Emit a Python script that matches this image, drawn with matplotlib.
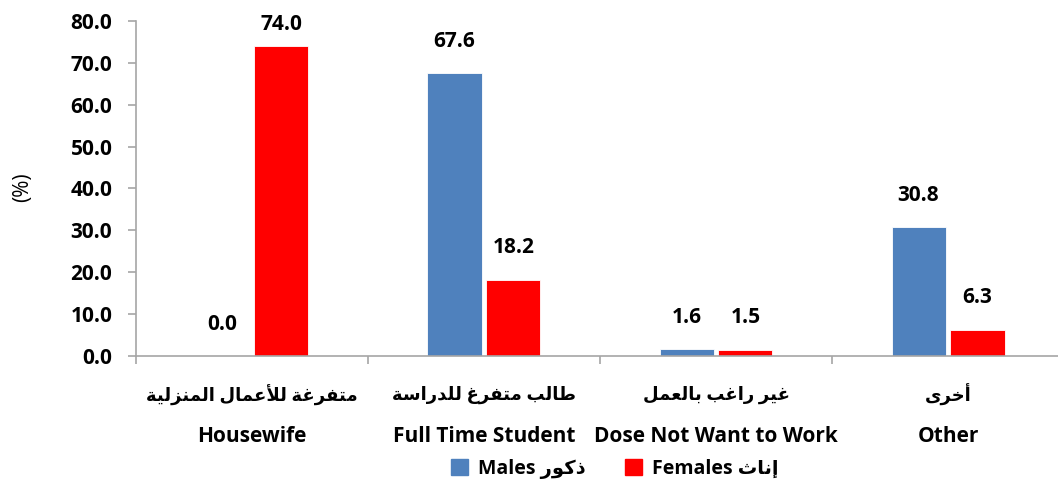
import numpy as np
import matplotlib.pyplot as plt
from matplotlib.patches import Patch

# data
categories_ar = ['متفرغة للأعمال المنزلية', 'طالب متفرغ للدراسة', 'غير راغب بالعمل', 'أخرى']
categories_en = ['Housewife', 'Full Time Student', 'Dose Not Want to Work', 'Other']
males = [0.0, 67.6, 1.6, 30.8]
females = [74.0, 18.2, 1.5, 6.3]
legend_ar = ['ذكور', 'إناث']
legend_en = ['Males', 'Females']
yticks = [0, 10, 20, 30, 40, 50, 60, 70, 80]

MALE_COLOR = '#4F81BD'
FEMALE_COLOR = '#FF0000'
AXIS_COLOR = '#A6A6A6'

# Arabic presentation forms (isolated, final, initial, medial)
FORMS = {
    'ا': (0xFE8D, 0xFE8E, None, None),
    'أ': (0xFE83, 0xFE84, None, None),
    'إ': (0xFE87, 0xFE88, None, None),
    'ب': (0xFE8F, 0xFE90, 0xFE91, 0xFE92),
    'ة': (0xFE93, 0xFE94, None, None),
    'ت': (0xFE95, 0xFE96, 0xFE97, 0xFE98),
    'ث': (0xFE99, 0xFE9A, 0xFE9B, 0xFE9C),
    'خ': (0xFEA5, 0xFEA6, 0xFEA7, 0xFEA8),
    'د': (0xFEA9, 0xFEAA, None, None),
    'ذ': (0xFEAB, 0xFEAC, None, None),
    'ر': (0xFEAD, 0xFEAE, None, None),
    'ز': (0xFEAF, 0xFEB0, None, None),
    'س': (0xFEB1, 0xFEB2, 0xFEB3, 0xFEB4),
    'ط': (0xFEC1, 0xFEC2, 0xFEC3, 0xFEC4),
    'ع': (0xFEC9, 0xFECA, 0xFECB, 0xFECC),
    'غ': (0xFECD, 0xFECE, 0xFECF, 0xFED0),
    'ف': (0xFED1, 0xFED2, 0xFED3, 0xFED4),
    'ك': (0xFED9, 0xFEDA, 0xFEDB, 0xFEDC),
    'ل': (0xFEDD, 0xFEDE, 0xFEDF, 0xFEE0),
    'م': (0xFEE1, 0xFEE2, 0xFEE3, 0xFEE4),
    'ن': (0xFEE5, 0xFEE6, 0xFEE7, 0xFEE8),
    'و': (0xFEED, 0xFEEE, None, None),
    'ى': (0xFEEF, 0xFEF0, None, None),
    'ي': (0xFEF1, 0xFEF2, 0xFEF3, 0xFEF4),
}
LAM_ALEF = {'ا': (0xFEFB, 0xFEFC), 'أ': (0xFEF7, 0xFEF8), 'إ': (0xFEF9, 0xFEFA)}


def shape(text):
    """Join Arabic letters and put them in visual (left-to-right) order."""
    tokens = []
    i = 0
    while i < len(text):
        c = text[i]
        if c == 'ل' and i + 1 < len(text) and text[i + 1] in LAM_ALEF:
            tokens.append(('LA', text[i + 1]))
            i += 2
        else:
            tokens.append(('C', c))
            i += 1
    out = []
    for k, (kind, c) in enumerate(tokens):
        prev = tokens[k - 1] if k > 0 else None
        nxt = tokens[k + 1] if k + 1 < len(tokens) else None
        joins_prev = (prev is not None and prev[0] == 'C' and prev[1] in FORMS
                      and FORMS[prev[1]][2] is not None)
        if kind == 'LA':
            iso, fin = LAM_ALEF[c]
            out.append(chr(fin if joins_prev else iso))
            continue
        if c not in FORMS:
            out.append(c)
            continue
        iso, fin, ini, med = FORMS[c]
        joins_next = ini is not None and nxt is not None and (nxt[0] == 'LA' or nxt[1] in FORMS)
        if joins_prev and joins_next:
            g = med
        elif joins_prev:
            g = fin
        elif joins_next:
            g = ini
        else:
            g = iso
        out.append(chr(g))
    return ''.join(reversed(out))


plt.rcParams['font.family'] = ['Open Sans', 'DejaVu Sans']

fig = plt.figure(figsize=(10.58, 4.86), dpi=100)
ax = fig.add_axes([0.1285, 0.2675, 0.8715, 0.6893])

x = np.arange(len(categories_en))
width = 0.233
off = 0.127
ax.bar(x - off, males, width, color=MALE_COLOR, edgecolor='white', linewidth=0.6)
ax.bar(x + off, females, width, color=FEMALE_COLOR, edgecolor='white', linewidth=0.6)

# value labels sit ~32 px above the bar, kept inside the plot area like Excel does
for xs, vals in ((x - off, males), (x + off, females)):
    for xi, v in zip(xs, vals):
        ax.text(xi, min(v + 7.6, 79.1), f'{v:.1f}', ha='center', va='center',
                fontsize=15, fontweight='bold', clip_on=False)

ax.set_xlim(-0.5, 3.474)
ax.set_ylim(0, 80)
ax.set_yticks(yticks)
ax.set_yticklabels([f'{t:.1f}' for t in yticks], fontsize=15, fontweight='bold')
ax.set_xticks(np.arange(-0.5, 3.0, 1.0))
ax.set_xticklabels([])
ax.tick_params(axis='both', direction='out', length=6, width=1.2, color=AXIS_COLOR)
ax.tick_params(axis='y', pad=11)
for s in ('top', 'right'):
    ax.spines[s].set_visible(False)
for s in ('left', 'bottom'):
    ax.spines[s].set_color(AXIS_COLOR)
    ax.spines[s].set_linewidth(1.2)

ax.set_ylabel('(%)', fontsize=15)
ax.yaxis.set_label_coords(-0.112, 0.504)

for i in range(len(categories_en)):
    ax.annotate(shape(categories_ar[i]), (i, 0), xycoords=('data', 'axes fraction'),
                xytext=(0, -39), textcoords='offset pixels', ha='center', va='center',
                fontsize=13, fontweight='bold')
    ax.annotate(categories_en[i], (i, 0), xycoords=('data', 'axes fraction'),
                xytext=(0, -81), textcoords='offset pixels', ha='center', va='center',
                fontsize=15, fontweight='bold')

handles = [Patch(color=MALE_COLOR), Patch(color=FEMALE_COLOR)]
labels = [f'{en} {shape(ar)}' for en, ar in zip(legend_en, legend_ar)]
fig.legend(handles, labels, loc='center', bbox_to_anchor=(0.581, 0.035), ncol=2,
           frameon=False, prop={'size': 14, 'weight': 'bold'},
           handlelength=0.9, handleheight=0.9, handletextpad=0.5, columnspacing=2.0)

plt.savefig('out.png', dpi=100)
plt.close()
